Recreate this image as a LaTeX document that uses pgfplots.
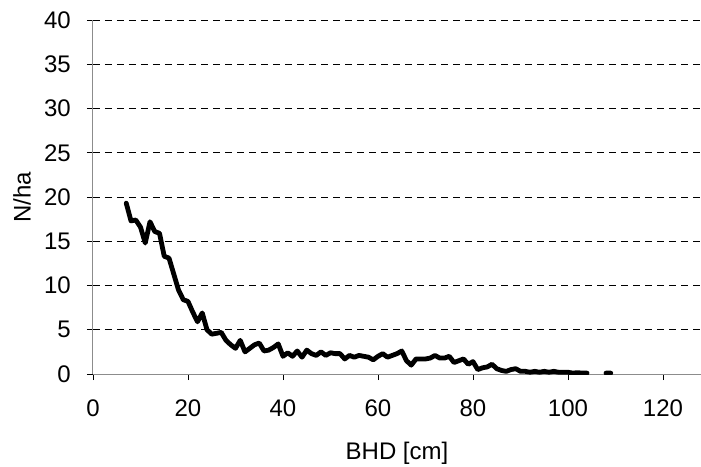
\documentclass[border=0pt]{standalone}
\usepackage{fontspec}
\setmainfont{Liberation Sans}
\usepackage{pgfplots}
\pgfplotsset{compat=1.18}
\begin{document}
\fontsize{24}{28}\selectfont
\begin{tikzpicture}[x=1pt,y=1pt]
\path[use as bounding box] (-93,-92) rectangle (608,374);
\begin{axis}[
  at={(0,0)}, anchor=south west,
  scale only axis, width=608pt, height=354pt,
  xmin=0, xmax=128, ymin=0, ymax=40,
  xtick={0,20,...,120}, ytick={0,5,...,40},
  axis lines*=left,
  axis line style={draw=gray!90, line width=1pt},
  tick align=outside, major tick length=6pt,
  tick style={black, line width=0.8pt},
  ymajorgrids,
  grid style={black, dash pattern=on 7pt off 5pt, line width=0.8pt},
  /pgf/number format/assume math mode=true,
  tick label style={font=\fontsize{24}{28}\selectfont},
  label style={font=\fontsize{24}{28}\selectfont},
  xticklabel style={yshift=-12pt},
  yticklabel style={xshift=-8pt},
  xlabel={BHD [cm]}, ylabel={N/ha},
  xlabel style={at={(axis description cs:0.5,0)}, anchor=center, yshift=-79pt},
  ylabel style={at={(axis description cs:0,0.5)}, anchor=center, yshift=71pt},
  unbounded coords=jump,
]
\addplot[black, line width=4.8pt, line join=round, line cap=round] table[x=d, y=n] {
d n
7 19.3
8 17.3
9 17.4
10 16.6
11 14.8
12 17.2
13 16.1
14 15.9
15 13.3
16 13.1
17 11.3
18 9.5
19 8.4
20 8.2
21 7.0
22 5.9
23 6.9
24 5.0
25 4.5
26 4.6
27 4.7
28 3.8
29 3.3
30 2.9
31 3.8
32 2.5
33 2.9
34 3.3
35 3.5
36 2.6
37 2.7
38 3.0
39 3.4
40 2.0
41 2.4
42 2.0
43 2.6
44 1.9
45 2.7
46 2.3
47 2.1
48 2.5
49 2.1
50 2.4
51 2.3
52 2.3
53 1.7
54 2.1
55 1.9
56 2.1
57 2.0
58 1.9
59 1.6
60 2.0
61 2.3
62 1.9
63 2.1
64 2.3
65 2.6
66 1.5
67 1.0
68 1.7
69 1.7
70 1.7
71 1.8
72 2.1
73 1.8
74 1.8
75 2.0
76 1.3
77 1.5
78 1.7
79 1.1
80 1.4
81 0.5
82 0.7
83 0.8
84 1.1
85 0.6
86 0.4
87 0.3
88 0.5
89 0.6
90 0.3
91 0.3
92 0.2
93 0.3
94 0.2
95 0.3
96 0.2
97 0.3
98 0.2
99 0.2
100 0.2
101 0.1
102 0.15
103 0.1
104 0.1
105 nan
106 nan
107 nan
108 0.1
109 0.1
};
\end{axis}
\end{tikzpicture}
\end{document}
